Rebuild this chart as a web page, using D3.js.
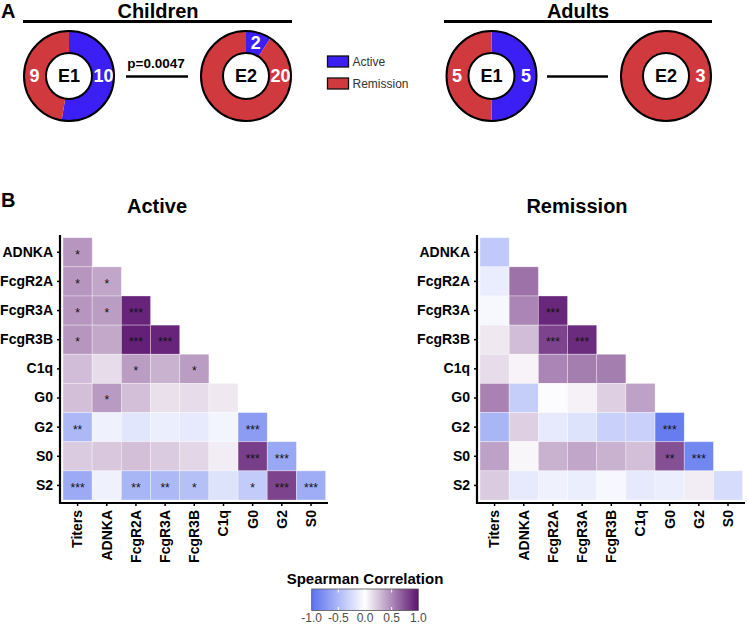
<!DOCTYPE html>
<html><head><meta charset="utf-8">
<script src="https://cdn.jsdelivr.net/npm/d3@7"></script>
<style>body{margin:0;background:#fff} text{font-family:"Liberation Sans",Arial,Helvetica,sans-serif}</style>
</head><body><svg id="c" width="747" height="624"></svg>
<script>
// ---------- data ----------
const groups = ["Active", "Remission"];
const childrenE1 = [10, 9];
const childrenE2 = [2, 20];
const adultsE1 = [5, 5];
const adultsE2 = [0, 3];
const pValue = "p=0.0047";

const vars = ["Titers","ADNKA","FcgR2A","FcgR3A","FcgR3B","C1q","G0","G2","S0","S2"];
const rowVars = vars.slice(1);
const colVars = vars.slice(0, 9);

const activeRho = [
 [0.45],
 [0.45, 0.38],
 [0.45, 0.42, 0.93],
 [0.45, 0.37, 0.95, 0.93],
 [0.28, 0.15, 0.42, 0.33, 0.42],
 [0.27, 0.43, 0.27, 0.13, 0.15, 0.10],
 [-0.50, -0.10, -0.18, -0.12, -0.15, -0.08, -0.70],
 [0.22, 0.24, 0.27, 0.22, 0.17, 0.08, 0.82, -0.62],
 [-0.60, -0.10, -0.52, -0.50, -0.45, -0.20, -0.37, 0.80, -0.58]
];
const activeSig = [
 ["*"],
 ["*","*"],
 ["*","*","***"],
 ["*","","***","***"],
 ["","","*","","*"],
 ["","*","","","",""],
 ["**","","","","","","***"],
 ["","","","","","","***","***"],
 ["***","","**","**","*","","*","***","***"]
];
const remissionRho = [
 [-0.38],
 [-0.13, 0.60],
 [-0.05, 0.52, 0.92],
 [0.10, 0.28, 0.80, 0.90],
 [0.15, 0.05, 0.52, 0.55, 0.55],
 [0.53, -0.35, -0.02, 0.06, 0.20, 0.40],
 [-0.52, 0.20, -0.15, -0.20, -0.33, -0.33, -0.92],
 [0.40, 0.04, 0.33, 0.38, 0.33, 0.27, 0.75, -0.85],
 [0.22, -0.15, -0.10, -0.12, -0.05, -0.15, -0.12, 0.08, -0.25]
];
const remissionSig = [
 [""],
 ["",""],
 ["","","***"],
 ["","","***","***"],
 ["","","","",""],
 ["","","","","",""],
 ["","","","","","","***"],
 ["","","","","","","**","***"],
 ["","","","","","","","",""]
];
const colorTicks = [-1.0, -0.5, 0.0, 0.5, 1.0];

// ---------- drawing ----------
const svg = d3.select("#c");
const BLUE = "#3c1ff5", RED = "#d03a3e";
const groupColor = d3.scaleOrdinal().domain(groups).range([BLUE, RED]);
const corrColor = d3.scaleLinear().domain([-1, 0, 1]).range(["#5a72ee", "#ffffff", "#5c1470"]);

// Panel labels
svg.append("text").attr("x", 1).attr("y", 18).attr("font-size", 20).attr("font-weight", "bold").text("A");
svg.append("text").attr("x", 1).attr("y", 207).attr("font-size", 20).attr("font-weight", "bold").text("B");

// Section titles
function section(title, cx, x1, x2) {
  svg.append("text").attr("x", cx).attr("y", 18).attr("text-anchor", "middle")
    .attr("font-size", 20).attr("font-weight", "bold").text(title);
  svg.append("line").attr("x1", x1).attr("x2", x2).attr("y1", 21.5).attr("y2", 21.5)
    .attr("stroke", "#000").attr("stroke-width", 3);
}
section("Children", 158, 23, 292);
section("Adults", 578, 444, 712);

const R_OUT = 45.5, R_IN = 23, R_LAB = 34.5;
const arc = d3.arc().innerRadius(R_IN).outerRadius(R_OUT);
function donut(cx, cy, values, name, labelAngles) {
  const g = svg.append("g").attr("transform", `translate(${cx},${cy})`);
  const arcs = d3.pie().sort(null)(values);
  g.selectAll("path").data(arcs).join("path")
    .attr("d", arc).attr("fill", (d, i) => groupColor(groups[i]));
  g.append("circle").attr("r", R_OUT - 0.5).attr("fill", "none").attr("stroke", "#000").attr("stroke-width", 2);
  g.append("circle").attr("r", R_IN).attr("fill", "#fff").attr("stroke", "#000").attr("stroke-width", 2);
  g.append("text").attr("text-anchor", "middle").attr("dy", "0.36em")
    .attr("font-size", 18).attr("font-weight", "bold").text(name);
  arcs.forEach((d, i) => {
    if (d.value <= 0) return;
    const a = (labelAngles && labelAngles[i] != null) ? labelAngles[i] : (d.startAngle + d.endAngle) / 2;
    g.append("text").attr("x", R_LAB * Math.sin(a)).attr("y", -R_LAB * Math.cos(a))
      .attr("dy", "0.36em").attr("text-anchor", "middle")
      .attr("font-size", 18).attr("font-weight", "bold").attr("fill", "#fff").text(d.value);
  });
}
donut(69, 76, childrenE1, "E1", [Math.PI / 2, 3 * Math.PI / 2]);
donut(246, 76, childrenE2, "E2", [null, Math.PI / 2]);
donut(491.5, 76, adultsE1, "E1");
donut(666, 76, adultsE2, "E2", [null, Math.PI / 2]);

// p-value & connectors
svg.append("text").attr("x", 156).attr("y", 68).attr("text-anchor", "middle")
  .attr("font-size", 13.5).attr("font-weight", "bold").text(pValue);
svg.append("line").attr("x1", 126).attr("x2", 188).attr("y1", 76.5).attr("y2", 76.5)
  .attr("stroke", "#000").attr("stroke-width", 2.7);
svg.append("line").attr("x1", 547).attr("x2", 608).attr("y1", 76.5).attr("y2", 76.5)
  .attr("stroke", "#000").attr("stroke-width", 2.7);

// Legend
groups.forEach((gname, i) => {
  const y = 56 + i * 22;
  svg.append("rect").attr("x", 327.5).attr("y", y).attr("width", 21).attr("height", 11)
    .attr("fill", groupColor(gname)).attr("stroke", "#111").attr("stroke-width", 1.3);
  svg.append("text").attr("x", 352.5).attr("y", y + 5.5).attr("dy", "0.35em")
    .attr("font-size", 12).attr("fill", "#333").text(gname);
});

// Heatmaps
function heat(x0, title, titleX, rho, sig) {
  const x = d3.scaleBand().domain(colVars).range([x0 + 3, x0 + 3 + 262.6]);
  const y = d3.scaleBand().domain(rowVars).range([237.7, 500]);
  svg.append("text").attr("x", titleX).attr("y", 213).attr("text-anchor", "middle")
    .attr("font-size", 20).attr("font-weight", "bold").text(title);
  const cells = [];
  rho.forEach((row, i) => row.forEach((v, j) => cells.push({r: rowVars[i], c: colVars[j], v, s: sig[i][j]})));
  const g = svg.append("g");
  g.selectAll("rect").data(cells).join("rect")
    .attr("x", d => x(d.c)).attr("y", d => y(d.r))
    .attr("width", x.bandwidth()).attr("height", y.bandwidth())
    .attr("fill", d => corrColor(d.v))
    .attr("stroke", "#fff").attr("stroke-opacity", 0.4).attr("stroke-width", 0.8);
  g.selectAll("text").data(cells.filter(d => d.s)).join("text")
    .attr("x", d => x(d.c) + x.bandwidth() / 2).attr("y", d => y(d.r) + y.bandwidth() / 2 + 6.5)
    .attr("text-anchor", "middle").attr("font-size", 12).attr("fill", "#111").text(d => d.s);

  // axes
  const ay = svg.append("g").attr("transform", `translate(${x0},0)`)
    .call(d3.axisLeft(y).tickSize(3).tickPadding(4).tickSizeOuter(0));
  ay.select(".domain").remove();
  ay.selectAll(".tick line").attr("stroke", "#000").attr("stroke-width", 1.5);
  ay.selectAll(".tick text").attr("font-size", 14).attr("font-weight", "bold").attr("fill", "#000")
    .attr("font-family", "Liberation Sans, Arial, sans-serif");
  const ax = svg.append("g").attr("transform", `translate(0,503)`)
    .call(d3.axisBottom(x).tickSize(3).tickSizeOuter(0));
  ax.select(".domain").remove();
  ax.selectAll(".tick line").attr("stroke", "#000").attr("stroke-width", 1.5);
  ax.selectAll(".tick text").attr("font-size", 14).attr("font-weight", "bold").attr("fill", "#000")
    .attr("font-family", "Liberation Sans, Arial, sans-serif")
    .attr("transform", "rotate(-90)").attr("text-anchor", "end")
    .attr("x", -7).attr("y", 0).attr("dy", "0.35em");
  svg.append("path").attr("d", `M${x0},235V503H${x0 + 268}`)
    .attr("fill", "none").attr("stroke", "#000").attr("stroke-width", 2.2);
}
heat(60, "Active", 157, activeRho, activeSig);
heat(477, "Remission", 577, remissionRho, remissionSig);

// Colour bar
const cb = d3.scaleLinear().domain([-1, 1]).range([311.7, 418.3]);
const defs = svg.append("defs");
const grad = defs.append("linearGradient").attr("id", "cbgrad");
d3.range(0, 1.0001, 0.05).forEach(t => {
  grad.append("stop").attr("offset", t).attr("stop-color", corrColor(-1 + 2 * t));
});
svg.append("text").attr("x", 365).attr("y", 584).attr("text-anchor", "middle")
  .attr("font-size", 15).attr("font-weight", "bold").text("Spearman Correlation");
svg.append("rect").attr("x", cb(-1)).attr("y", 589).attr("width", cb(1) - cb(-1)).attr("height", 21.5)
  .attr("fill", "url(#cbgrad)").attr("stroke", "#555").attr("stroke-width", 0.8);
colorTicks.forEach(t => {
  if (Math.abs(t) < 1) {
    svg.append("line").attr("x1", cb(t)).attr("x2", cb(t)).attr("y1", 589.5).attr("y2", 592.5)
      .attr("stroke", "#fff").attr("stroke-width", 1);
    svg.append("line").attr("x1", cb(t)).attr("x2", cb(t)).attr("y1", 607).attr("y2", 610)
      .attr("stroke", "#fff").attr("stroke-width", 1);
  }
  svg.append("text").attr("x", cb(t)).attr("y", 621.5).attr("text-anchor", "middle")
    .attr("font-size", 12).attr("fill", "#4d4d4d").text(d3.format(".1f")(t).replace("−", "-"));
});
</script></body></html>
